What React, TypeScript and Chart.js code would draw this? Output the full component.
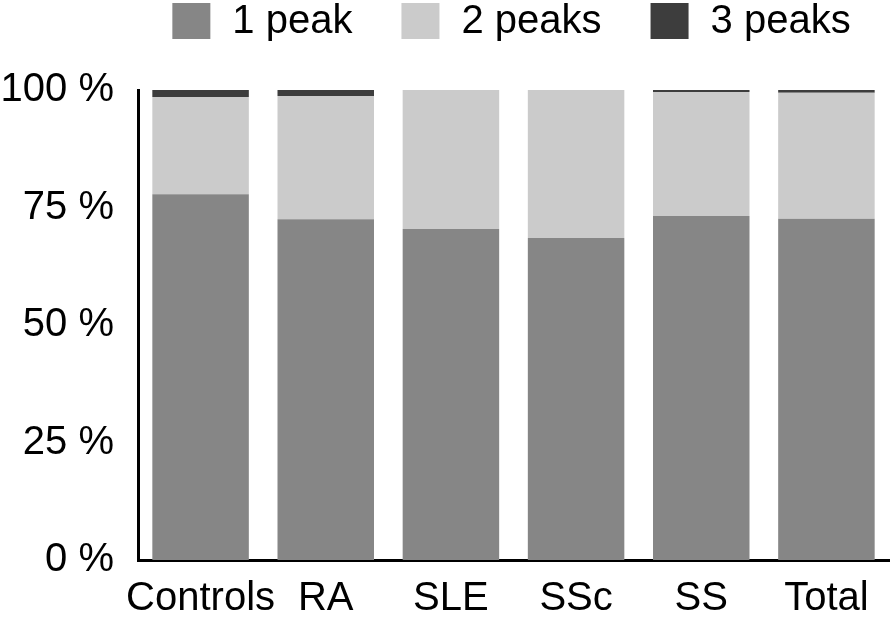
import React, { useEffect, useRef } from "react";
import { Chart, registerables } from "chart.js";

Chart.register(...registerables);

const categories = ["Controls", "RA", "SLE", "SSc", "SS", "Total"];
const onePeak = [77.8, 72.5, 70.4, 68.5, 73.2, 72.6];
const twoPeaks = [20.7, 26.2, 29.6, 31.5, 26.4, 26.8];
const threePeaks = [1.5, 1.3, 0, 0, 0.4, 0.6];
const seriesLabels = ["1 peak", "2 peaks", "3 peaks"];
const seriesColors = ["#868686", "#cbcbcb", "#3d3d3d"];
const yTicks = [0, 25, 50, 75, 100];

const FONT = '"Liberation Sans", Arial, Helvetica, sans-serif';

const topLegend = {
  id: "topLegend",
  afterDraw(chart: any) {
    const { ctx, chartArea } = chart;
    const boxW = 38;
    const boxH = 36;
    const textGap = 22;
    const itemGap = 49;
    ctx.save();
    ctx.font = `40px ${FONT}`;
    ctx.textBaseline = "middle";
    ctx.textAlign = "left";
    const ds = chart.data.datasets;
    const widths = ds.map((d: any) => boxW + textGap + ctx.measureText(d.label).width);
    const total = widths.reduce((a: number, b: number) => a + b, 0) + itemGap * (ds.length - 1);
    let x = (chartArea.left + chartArea.right) / 2 - 2 - total / 2;
    const top = 3;
    ds.forEach((d: any, i: number) => {
      ctx.fillStyle = d.backgroundColor;
      ctx.fillRect(x, top, boxW, boxH);
      ctx.fillStyle = "#000";
      ctx.fillText(d.label, x + boxW + textGap, top + boxH / 2 + 1);
      x += widths[i] + itemGap;
    });
    ctx.restore();
  },
};

export default function App() {
  const ref = useRef<HTMLCanvasElement | null>(null);
  useEffect(() => {
    if (!ref.current) return;
    Chart.defaults.font.family = FONT;
    const values = [onePeak, twoPeaks, threePeaks];
    const chart = new Chart(ref.current, {
      type: "bar",
      data: {
        labels: categories,
        datasets: values.map((v, i) => ({
          label: seriesLabels[i],
          data: v,
          backgroundColor: seriesColors[i],
          borderWidth: 0,
          barPercentage: 0.771,
          categoryPercentage: 1,
        })),
      },
      options: {
        responsive: false,
        animation: false,
        layout: { padding: { top: 90, right: 5, left: 0, bottom: 0 } },
        plugins: {
          legend: { display: false },
          tooltip: { enabled: false },
        },
        scales: {
          x: {
            stacked: true,
            grid: { display: false, drawTicks: false },
            border: { display: true, color: "#000", width: 3 },
            ticks: { color: "#000", font: { size: 40, family: FONT }, padding: 15, maxRotation: 0, autoSkip: false },
            afterFit: (s: any) => {
              s.height = 60;
            },
          },
          y: {
            stacked: true,
            min: 0,
            max: 100,
            afterBuildTicks: (s: any) => {
              s.ticks = yTicks.map((v) => ({ value: v }));
            },
            grid: { display: false, drawTicks: false },
            border: { display: true, color: "#000", width: 3 },
            ticks: {
              color: "#000",
              font: { size: 40, family: FONT },
              padding: 24,
              callback: (v: any) => `${v} %`,
            },
            afterFit: (s: any) => {
              s.width = 138;
            },
          },
        },
      },
      plugins: [topLegend],
    });
    return () => chart.destroy();
  }, []);
  return (
    <div style={{ position: "fixed", left: 0, top: 0, width: 894, height: 620, background: "#fff" }}>
      <canvas ref={ref} width={894} height={620} style={{ width: 894, height: 620, display: "block" }} />
    </div>
  );
}
